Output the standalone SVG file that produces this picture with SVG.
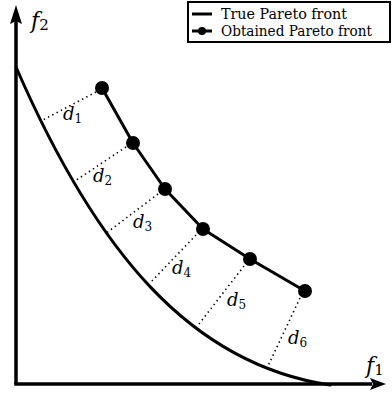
<svg xmlns="http://www.w3.org/2000/svg" width="392" height="394" viewBox="0 0 392 394">
<style>
.axis{stroke:#000;stroke-width:3.5;fill:none}
.front{stroke:#000;stroke-width:3;fill:none;stroke-linejoin:round;stroke-linecap:round}
.dist{stroke:#000;stroke-width:1.6;fill:none;stroke-dasharray:1.4 3.4}
.pt{fill:#000}
text{font-family:'DejaVu Serif','Liberation Serif',serif;fill:#000}
.lbl{font-style:italic;font-size:18px}
.big{font-size:22px}
.sub{font-style:normal;font-size:12px}
.bigsub{font-style:normal;font-size:15px}
.leg{font-size:14.5px}
</style>
<rect width="392" height="394" fill="#fff"/>
<g id="axes">
<line class="axis" x1="16" y1="384" x2="16" y2="20"/>
<polygon points="16,5 10,24 16,21 22,24" fill="#000"/>
<line class="axis" x1="14.3" y1="384" x2="372" y2="384"/>
<polygon points="386,384 370,378 373,384 370,390" fill="#000"/>
<text class="lbl big" x="31" y="28">f<tspan class="bigsub" dy="2">2</tspan></text>
<text class="lbl big" x="366" y="373">f<tspan class="bigsub" dy="2">1</tspan></text>
</g>
<g id="true-front">
<path class="front" d="M16,67 C96,251 190,364 330,385"/>
</g>
<g id="obtained-front">
<polyline class="front" points="102,88 133,143 165,189 203,229 250,259 305,291"/>
<circle class="pt" cx="102" cy="88" r="7"/>
<circle class="pt" cx="133" cy="143" r="7"/>
<circle class="pt" cx="165" cy="189" r="7"/>
<circle class="pt" cx="203" cy="229" r="7"/>
<circle class="pt" cx="250" cy="259" r="7"/>
<circle class="pt" cx="305" cy="291" r="7"/>
</g>
<g id="connectors">
<line class="dist" x1="96" y1="92" x2="41" y2="121"/>
<line class="dist" x1="126" y1="147" x2="72" y2="183"/>
<line class="dist" x1="158" y1="194" x2="105" y2="234"/>
<line class="dist" x1="196" y1="235" x2="150" y2="283"/>
<line class="dist" x1="244" y1="266" x2="199" y2="324"/>
<line class="dist" x1="300" y1="298" x2="268" y2="366"/>
</g>
<g id="labels">
<text class="lbl" x="63" y="120">d<tspan class="sub" dy="3">1</tspan></text>
<text class="lbl" x="93" y="182">d<tspan class="sub" dy="3">2</tspan></text>
<text class="lbl" x="133" y="228">d<tspan class="sub" dy="3">3</tspan></text>
<text class="lbl" x="172" y="274">d<tspan class="sub" dy="3">4</tspan></text>
<text class="lbl" x="227" y="306">d<tspan class="sub" dy="3">5</tspan></text>
<text class="lbl" x="288" y="344">d<tspan class="sub" dy="3">6</tspan></text>
</g>
<g id="legend">
<rect x="188" y="2" width="202" height="40" fill="#fff" stroke="#000" stroke-width="2"/>
<line x1="192" y1="14" x2="212" y2="14" stroke="#000" stroke-width="3"/>
<text class="leg" x="221" y="19" textLength="126" lengthAdjust="spacingAndGlyphs">True Pareto front</text>
<line x1="192" y1="31" x2="212" y2="31" stroke="#000" stroke-width="3"/>
<circle cx="202" cy="31" r="4" fill="#000"/>
<text class="leg" x="221" y="36" textLength="151" lengthAdjust="spacingAndGlyphs">Obtained Pareto front</text>
</g>
</svg>
